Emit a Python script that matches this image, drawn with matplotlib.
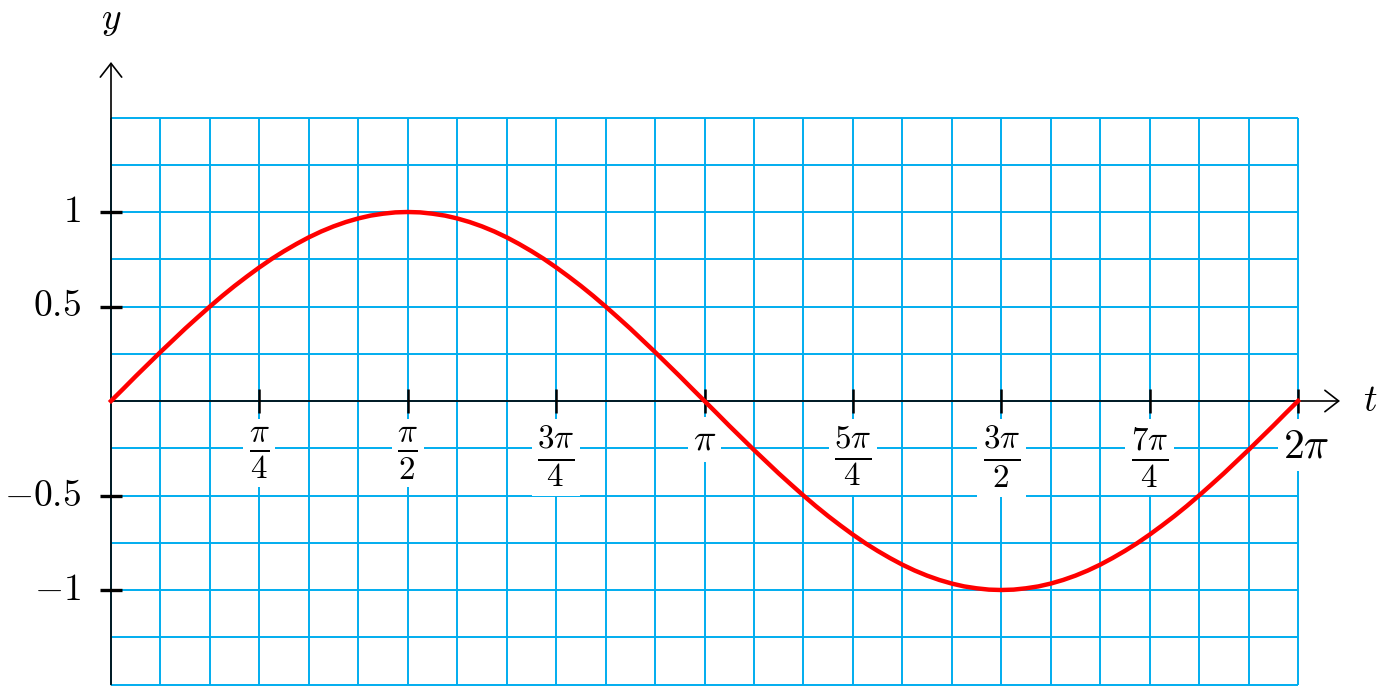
import numpy as np
import matplotlib
matplotlib.use("Agg")
import matplotlib.pyplot as plt

plt.rcParams['mathtext.fontset'] = 'cm'
plt.rcParams['font.family'] = 'DejaVu Serif'

t_steps = list(range(97))  # multiples of pi/48
y_vals = [0.0, 0.065, 0.131, 0.195, 0.259, 0.321, 0.383, 0.442, 0.5, 0.556, 0.609, 0.659,
          0.707, 0.752, 0.793, 0.831, 0.866, 0.897, 0.924, 0.947, 0.966, 0.981, 0.991, 0.998,
          1.0, 0.998, 0.991, 0.981, 0.966, 0.947, 0.924, 0.897, 0.866, 0.831, 0.793, 0.752,
          0.707, 0.659, 0.609, 0.556, 0.5, 0.442, 0.383, 0.321, 0.259, 0.195, 0.131, 0.065,
          0.0, -0.065, -0.131, -0.195, -0.259, -0.321, -0.383, -0.442, -0.5, -0.556, -0.609, -0.659,
          -0.707, -0.752, -0.793, -0.831, -0.866, -0.897, -0.924, -0.947, -0.966, -0.981, -0.991, -0.998,
          -1.0, -0.998, -0.991, -0.981, -0.966, -0.947, -0.924, -0.897, -0.866, -0.831, -0.793, -0.752,
          -0.707, -0.659, -0.609, -0.556, -0.5, -0.442, -0.383, -0.321, -0.259, -0.195, -0.131, -0.065,
          0.0]
x_tick_mult = [1, 2, 3, 4, 5, 6, 7, 8]  # multiples of pi/4
x_tick_labels = [r'$\frac{\pi}{4}$', r'$\frac{\pi}{2}$', r'$\frac{3\pi}{4}$', r'$\pi$',
                 r'$\frac{5\pi}{4}$', r'$\frac{3\pi}{2}$', r'$\frac{7\pi}{4}$', r'$2\pi$']
y_ticks = [1, 0.5, -0.5, -1]
y_tick_labels = [r'$1$', r'$0.5$', r'$-0.5$', r'$-1$']

W, H = 1379, 692
fig = plt.figure(figsize=(W / 100, H / 100), dpi=100)
ax = fig.add_axes([0, 0, 1, 1])
ax.axis('off')

sx = 1187 / (2 * np.pi)   # px per unit x
sy = 189.0                # px per unit y
x0, y0 = 111, 401
ax.set_xlim(-x0 / sx, (W - x0) / sx)
ax.set_ylim(-(H - y0) / sy, y0 / sy)

grid_c = '#00adef'
# grid
for k in range(25):
    xv = k * np.pi / 12
    ax.plot([xv, xv], [-1.5, 1.5], color=grid_c, lw=1.4, zorder=1, solid_capstyle='butt')
for k in range(13):
    yv = -1.5 + k * 0.25
    ax.plot([0, 2 * np.pi], [yv, yv], color=grid_c, lw=1.4, zorder=1, solid_capstyle='butt')

# axes with arrows
arrow = dict(arrowstyle='->,head_length=0.45,head_width=0.35', lw=1.2, color='black',
             shrinkA=0, shrinkB=0, mutation_scale=22)
ax.annotate('', xy=((1340 - x0) / sx, 0), xytext=(0, 0), arrowprops=arrow, zorder=3)
ax.annotate('', xy=(0, (y0 - 62) / sy), xytext=(0, -1.5), arrowprops=arrow, zorder=3)

# x ticks
tick_h = 12 / sy
for i, (m, lab) in enumerate(zip(x_tick_mult, x_tick_labels)):
    xv = m * np.pi / 4
    ax.plot([xv, xv], [-tick_h, tick_h], color='black', lw=1.8, zorder=4, solid_capstyle='butt')
    is_frac = lab.startswith(r'$\frac')
    last = i == len(x_tick_labels) - 1
    fs = 34 if is_frac else (30 if last else 27)
    top_px = 425 if is_frac else (424 if last else 421)
    xl = xv + (8 / sx if last else 0)
    ax.text(xl, -(top_px - y0) / sy, lab, ha='center', va='top', fontsize=fs, zorder=5,
            bbox=dict(boxstyle='square,pad=0.12', fc='white', ec='none'))

# y ticks
tick_w = 11 / sx
for yv, lab in zip(y_ticks, y_tick_labels):
    ax.plot([-tick_w, tick_w], [yv, yv], color='black', lw=2.4, zorder=4, solid_capstyle='butt')
    ax.text(-(111 - 81) / sx, yv, lab, ha='right', va='center', fontsize=27, zorder=5)

# axis labels
ax.text(0, (y0 - 20) / sy, r'$y$', ha='center', va='center', fontsize=27)
ax.text((1370 - x0) / sx, 0, r'$t$', ha='center', va='center', fontsize=27)

# curve
t_vals = [k * np.pi / 48 for k in t_steps]
ax.plot(t_vals, y_vals, color='#ff0000', lw=3.2, zorder=6, solid_joinstyle='round')

fig.savefig('out.png', dpi=100)
